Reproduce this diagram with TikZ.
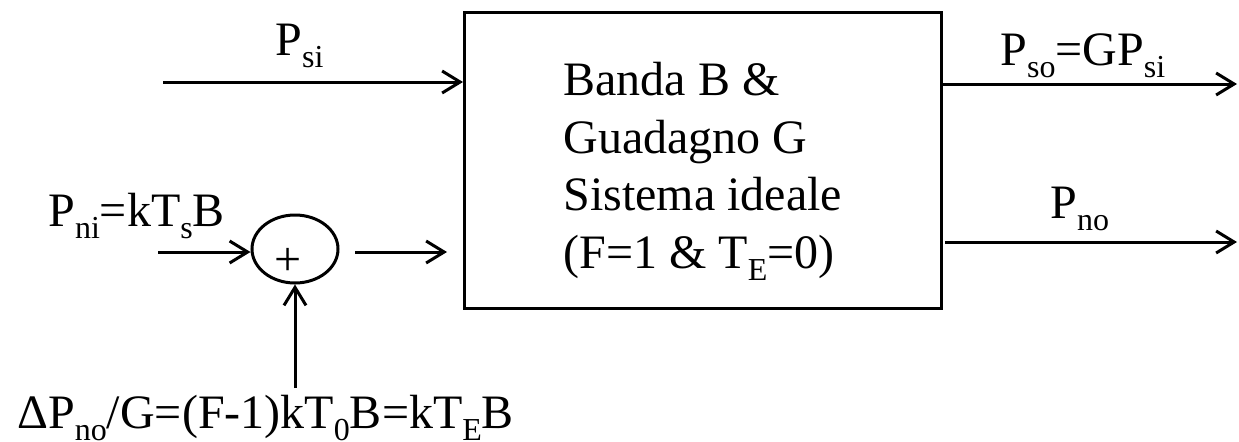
\documentclass[tikz,border=0pt]{standalone}
\usepackage{fontspec}
\setmainfont{Liberation Serif}
\usetikzlibrary{arrows.meta,shapes.geometric}
\newcommand\sbs[1]{\raisebox{-6pt}{\fontsize{16}{16}\selectfont #1}}
\begin{document}
\begin{tikzpicture}[x=0.5pt,y=-0.5pt,
  lbl/.style={anchor=base west,inner sep=0pt,font=\fontsize{24}{28}\selectfont},
  arr/.style={line width=1.5pt,-{Straight Barb[length=9pt,width=11pt,line width=1.5pt]}},
  blk/.style={draw,line width=1.5pt,inner sep=0pt}]
\useasboundingbox (0,0) rectangle (1239,441);
% main block
\node (box) [blk,anchor=north west,minimum width=238.5pt,minimum height=148pt] at (463,11) {};
\node (t1) [lbl] at (563,95) {Banda B \&};
\node (t2) [lbl] at (563,153) {Guadagno G};
\node (t3) [lbl] at (563,210) {Sistema ideale};
\node (t4) [lbl] at (563,268) {(F=1 \& T\sbs{E}=0)};
% summing junction
\node (sum) [blk,ellipse,minimum width=43pt,minimum height=34pt] at (295,249) {};
\node (plus) [inner sep=0pt,font=\fontsize{24}{28}\selectfont] at (288,262) {+};
% coordinates
\coordinate (a1) at (163,82);
\coordinate (a2) at (158,252);
\coordinate (b1) at (355,252);
\coordinate (b2) at (447,252);
\coordinate (c1) at (295,388);
\coordinate (d1) at (1237,84);
\coordinate (e1) at (945,242);
\coordinate (e2) at (1237,242);
% connectors
\draw[arr] (a1) -- (a1 -| box.west);
\draw[arr] (a2) -- (a2 -| sum.west);
\draw[arr] (b1) -- (b2);
\draw[arr] (c1) -- (sum.south);
\draw[arr] (d1 -| box.east) -- (d1);
\draw[arr] (e1) -- (e2);
% labels
\node (psi) [lbl] at (275,55) {P\sbs{si}};
\node (pni) [lbl] at (48,226) {P\sbs{ni}=kT\sbs{s}B};
\node (pso) [lbl] at (1000,65) {P\sbs{so}=GP\sbs{si}};
\node (pno) [lbl] at (1050,218) {P\sbs{no}};
\node (dp) [lbl] at (17,428) {ΔP\sbs{no}/G=(F-1)kT\sbs{0}B=kT\sbs{E}B};
\end{tikzpicture}
\end{document}
